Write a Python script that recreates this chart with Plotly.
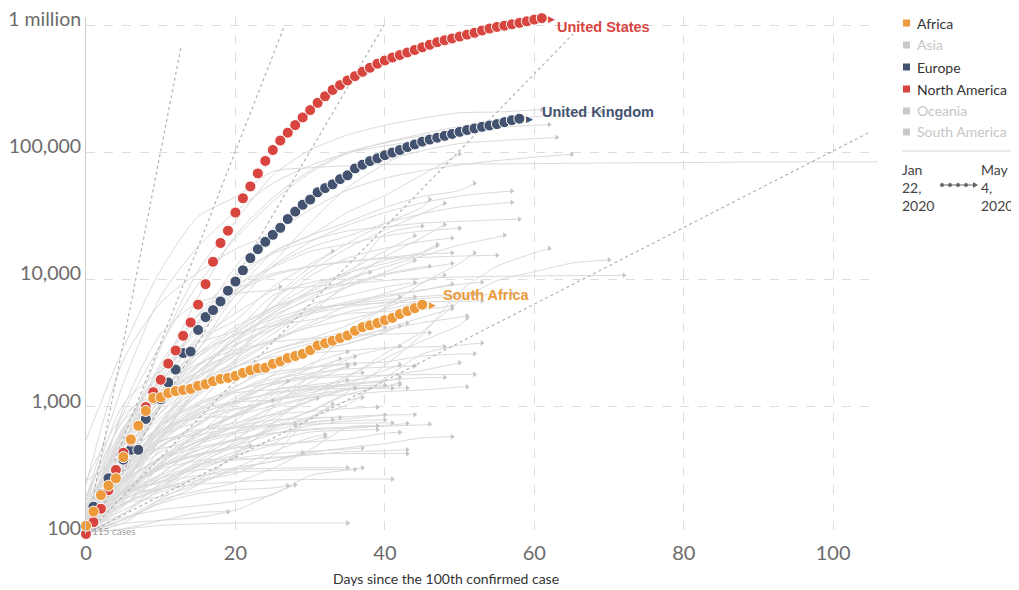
import math
import plotly.graph_objects as go

# ---------------- data ----------------
us_cases = [100, 124, 158, 221, 319, 435, 541, 704, 994, 1301, 1630, 2183, 2770, 3613, 4596,
            6344, 9197, 13779, 19367, 24192, 33592, 43505, 53938, 68211, 85435, 104126, 123578,
            142460, 163539, 187834, 214461, 244440, 275582, 308848, 337065, 366660, 396223,
            429052, 461437, 496535, 526396, 555313, 580619, 607670, 636350, 667592, 699706,
            732197, 758809, 784326, 811865, 840351, 869170, 905358, 938154, 965785, 988197,
            1012582, 1039909, 1069424, 1103461, 1132539]
uk_cases = [116, 164, 207, 274, 322, 384, 459, 459, 802, 1144, 1145, 1551, 1960, 2642, 2716,
            4014, 5067, 5745, 6726, 8164, 9640, 11812, 14745, 17312, 19780, 22453, 25481, 29865,
            34173, 38689, 42477, 48436, 52279, 55949, 61474, 65872, 74605, 79874, 85206, 89570,
            94845, 99483, 104145, 109769, 115314, 121172, 125856, 130172, 134638, 139246, 144640,
            149569, 154037, 158348, 162350, 166441, 172481, 178685, 183500]
sa_cases = [116, 150, 202, 240, 274, 402, 554, 709, 927, 1170, 1187, 1280, 1326, 1353, 1380,
            1462, 1505, 1585, 1655, 1686, 1749, 1845, 1934, 2003, 2028, 2173, 2272, 2415, 2506,
            2605, 2783, 3034, 3158, 3300, 3465, 3635, 3953, 4220, 4361, 4546, 4793, 4996, 5350,
            5647, 5951, 6336]

ref_start = (0, 100)
ref_end_days = [12.7, 26.6, 39.9, 65.2, 105.0]
ref_end_cases = [665000, 1000000, 1000000, 850000, 145000]

# grey background countries: (name, last day, values at days 0,5,10,... then value on last day)
grey_europe = [
    ("Italy", 69, [155, 888, 3089, 9172, 21157, 41035, 69176, 97689, 119827, 139422, 159516, 175925, 189973, 201505, 209328]),
    ("Spain", 61, [120, 500, 2950, 11748, 28768, 65719, 104118, 136675, 163027, 184948, 204178, 207000, 215000, 216582]),
    ("Germany", 62, [130, 670, 1908, 7272, 22213, 43938, 71808, 100123, 118181, 134753, 147065, 156513, 163009, 164967]),
    ("France", 63, [100, 423, 1784, 4499, 12612, 25233, 44550, 68000, 86000, 103000, 117000, 123000, 128000, 131000]),
    ("Belgium", 57, [109, 314, 1243, 2815, 6235, 12775, 19691, 26667, 33573, 39983, 45325, 48519, 49517]),
    ("Netherlands", 57, [128, 614, 1413, 3640, 7468, 12667, 17851, 21903, 27580, 32838, 37190, 39512, 40434]),
    ("Switzerland", 58, [114, 491, 2200, 5294, 10897, 15922, 20278, 24051, 25936, 27740, 28677, 29407, 29817]),
    ("Sweden", 56, [161, 687, 1279, 1746, 2526, 4947, 7206, 10151, 12540, 15322, 18640, 21520, 22317]),
    ("Austria", 55, [104, 504, 1646, 4474, 8271, 11129, 12640, 13945, 14595, 14925, 15274, 15531]),
    ("Portugal", 50, [112, 642, 2060, 5170, 9034, 12442, 16585, 19022, 21982, 24027, 25282]),
    ("Ireland", 49, [129, 557, 1329, 2615, 4273, 6074, 10647, 14758, 17607, 19877, 21176]),
    ("Russia", 46, [114, 367, 1036, 2777, 7497, 13584, 27938, 52763, 80949, 114431, 124054]),
    ("Turkey", 45, [191, 1529, 7402, 18135, 34109, 56956, 78546, 98674, 112261, 124375]),
    ("Norway", 57, [108, 598, 1256, 2132, 3084, 4284, 5370, 6086, 6623, 7078, 7401, 7667, 7809]),
    ("Denmark", 53, [264, 864, 1337, 1862, 2755, 4369, 5635, 6681, 7515, 8271, 9158, 9523]),
    ("Czechia", 52, [116, 298, 995, 2062, 3308, 4587, 5732, 6433, 6900, 7352, 7682, 7737]),
    ("Poland", 49, [103, 355, 901, 1862, 3383, 5205, 6934, 8742, 10892, 12218, 13375]),
    ("Romania", 46, [184, 433, 1029, 2460, 4057, 5990, 7707, 9242, 11036, 12567, 12732]),
    ("Finland", 51, [155, 321, 626, 958, 1418, 2176, 2905, 3489, 4014, 4576, 5051, 5176]),
    ("Greece", 52, [117, 331, 624, 892, 1314, 1755, 2011, 2192, 2245, 2506, 2591, 2612]),
    ("Serbia", 44, [103, 303, 741, 1908, 2666, 4054, 6318, 7483, 8724, 9464]),
    ("Ukraine", 38, [145, 548, 1225, 1892, 3372, 5449, 7647, 9866, 11411]),
    ("Belarus", 33, [152, 440, 1066, 3281, 4779, 8773, 13181, 16705]),
    ("Iceland", 52, [103, 180, 473, 737, 1135, 1486, 1675, 1727, 1771, 1792, 1797, 1799]),
    ("Luxembourg", 46, [140, 670, 1453, 2178, 2804, 3223, 3444, 3618, 3711, 3802, 3811]),
    ("Slovenia", 51, [141, 275, 442, 632, 841, 1021, 1188, 1248, 1317, 1355, 1429, 1439]),
    ("Croatia", 44, [105, 382, 713, 1079, 1343, 1650, 1832, 1981, 2047, 2096]),
    ("Estonia", 48, [171, 306, 575, 858, 1108, 1258, 1400, 1512, 1605, 1689, 1700]),
    ("Hungary", 42, [103, 261, 492, 733, 1190, 1579, 1984, 2443, 2863, 2998]),
    ("Slovakia", 43, [137, 216, 363, 534, 728, 977, 1173, 1360, 1396, 1407]),
    ("Bulgaria", 42, [163, 264, 399, 531, 635, 747, 915, 1247, 1447, 1541]),
    ("Lithuania", 41, [131, 299, 537, 880, 1070, 1298, 1370, 1398, 1399]),
    ("Latvia", 44, [111, 221, 347, 458, 542, 651, 748, 804, 858, 868]),
    ("Moldova", 40, [109, 298, 752, 1438, 2049, 2778, 3304, 3897, 4247]),
    ("Bosnia", 42, [126, 258, 579, 764, 946, 1110, 1342, 1486, 1585, 1706]),
    ("North Macedonia", 42, [114, 219, 354, 617, 854, 1117, 1231, 1386, 1442, 1486]),
    ("Albania", 40, [104, 212, 333, 416, 494, 609, 712, 773, 789]),
    ("Cyprus", 40, [116, 230, 396, 526, 695, 784, 810, 837, 864]),
    ("Andorra", 41, [113, 334, 545, 601, 683, 717, 731, 743, 747]),
    ("San Marino", 49, [101, 144, 223, 279, 333, 371, 435, 476, 513, 569, 582]),
    ("Malta", 37, [129, 188, 241, 337, 393, 427, 446, 465, 474]),
    ("Montenegro", 36, [105, 214, 255, 288, 307, 315, 320, 322, 322]),
    ("Kosovo", 34, [112, 145, 250, 361, 480, 510, 799, 823]),
    ("Georgia", 32, [110, 188, 234, 348, 416, 497, 539, 582]),
]
grey_asia = [
    ("China", 107, [548, 2886, 11891, 31161, 44653, 70548, 75550, 78191, 80174, 80770, 80981, 81000, 81435, 81897, 82361, 82665, 82959, 83403, 83853, 83912, 83959, 84000]),
    ("Iran", 65, [245, 2336, 6566, 11364, 17361, 23049, 35408, 50468, 62589, 71686, 79494, 85996, 91472, 96448]),
    ("South Korea", 72, [104, 977, 3736, 6593, 7755, 8236, 8799, 9241, 9786, 10237, 10450, 10591, 10674, 10718, 10765, 10793]),
    ("Japan", 70, [105, 214, 293, 502, 701, 878, 1128, 1693, 2617, 3906, 6748, 9787, 11512, 13441, 14281]),
    ("Singapore", 62, [106, 130, 178, 243, 432, 683, 926, 1309, 2108, 3699, 8014, 12693, 16169, 17548]),
    ("India", 48, [113, 244, 657, 1397, 3082, 6725, 11487, 17615, 24530, 33062, 39699]),
    ("Saudi Arabia", 48, [103, 274, 767, 1563, 2179, 3287, 5369, 9362, 15102, 21402, 27011]),
    ("Qatar", 52, [262, 401, 470, 549, 781, 1325, 2057, 3711, 6015, 9358, 13409, 16191]),
    ("Pakistan", 47, [187, 776, 1197, 2118, 3864, 5716, 7993, 11155, 14079, 16473, 18912]),
    ("UAE", 44, [140, 248, 611, 1264, 2359, 3736, 5825, 8756, 11380, 14163]),
    ("Indonesia", 48, [117, 369, 893, 1528, 2273, 3293, 4557, 6248, 7775, 9511, 10843]),
    ("Philippines", 49, [111, 217, 552, 1418, 3018, 4076, 5453, 6459, 7294, 8212, 9223]),
    ("Malaysia", 49, [197, 790, 1624, 2626, 3662, 4346, 4817, 5389, 5603, 5820, 6176]),
    ("Thailand", 48, [114, 411, 1045, 1524, 2067, 2473, 2643, 2765, 2907, 2954, 2966]),
    ("Israel", 49, [143, 529, 1656, 4247, 7851, 10743, 12591, 13713, 14882, 15728, 16208]),
    ("Bahrain", 53, [109, 210, 228, 377, 515, 672, 833, 1040, 1673, 2588, 3040, 3170]),
    ("Kuwait", 51, [100, 130, 189, 266, 417, 743, 1234, 1751, 2399, 3288, 4377, 4983]),
    ("Iraq", 50, [101, 164, 346, 630, 878, 1352, 1482, 1602, 1763, 1928, 2219]),
    ("Lebanon", 46, [110, 248, 391, 479, 548, 619, 658, 677, 704, 721, 729]),
    ("Vietnam", 41, [113, 174, 227, 245, 257, 266, 268, 270, 270, 270]),
    ("Taiwan", 43, [100, 215, 322, 376, 388, 395, 425, 429, 429, 429]),
    ("Bangladesh", 26, [123, 482, 1572, 3382, 5416, 8238, 8790]),
    ("Kazakhstan", 37, [111, 343, 670, 1232, 1852, 2601, 3138, 3702, 4082]),
    ("Uzbekistan", 35, [104, 221, 582, 1349, 1627, 1869, 2039, 2149]),
    ("Afghanistan", 35, [110, 269, 484, 714, 1092, 1531, 2171, 2704]),
    ("Sri Lanka", 39, [102, 122, 185, 218, 254, 330, 460, 690, 705]),
    ("Jordan", 43, [127, 212, 274, 353, 381, 401, 417, 444, 451, 459]),
    ("Oman", 36, [131, 192, 298, 484, 1019, 1508, 1790, 2348, 2483]),
    ("Armenia", 42, [136, 265, 532, 833, 967, 1111, 1291, 1523, 1932, 2148]),
    ("Azerbaijan", 37, [122, 298, 584, 926, 1340, 1548, 1717, 1804, 1854]),
    ("Kyrgyzstan", 33, [111, 216, 339, 506, 612, 708, 757, 789]),
    ("Cambodia", 35, [103, 109, 117, 120, 122, 122, 122, 122]),
]
grey_north_america = [
    ("Canada", 52, [108, 415, 1465, 4682, 9560, 16563, 22148, 28209, 36831, 44919, 50026, 57148]),
    ("Mexico", 44, [118, 405, 993, 1890, 3441, 5399, 8261, 11633, 16752, 22088]),
    ("Panama", 44, [137, 345, 989, 1673, 2528, 3400, 4210, 4821, 5779, 6532]),
    ("Dominican Republic", 42, [112, 488, 1109, 1745, 2620, 3286, 4335, 5543, 6293, 7288]),
    ("Costa Rica", 43, [113, 201, 330, 454, 558, 618, 669, 693, 713, 739]),
    ("Cuba", 35, [119, 212, 396, 620, 862, 1137, 1389, 1611]),
    ("Honduras", 33, [139, 222, 343, 426, 494, 702, 804, 1055]),
]
grey_south_america = [
    ("Brazil", 50, [151, 621, 1924, 3904, 8044, 16170, 22192, 33682, 45757, 66501, 97100]),
    ("Peru", 46, [117, 363, 635, 1065, 2281, 6848, 12491, 19250, 27517, 36976, 42534]),
    ("Chile", 47, [156, 537, 1306, 2449, 3737, 5972, 8807, 11296, 13331, 16023, 18435]),
    ("Ecuador", 45, [168, 1049, 1924, 3163, 3995, 7466, 9468, 10850, 22719, 26336]),
    ("Colombia", 44, [102, 306, 702, 1267, 2054, 2776, 3439, 4356, 5949, 7285]),
    ("Argentina", 43, [128, 387, 820, 1353, 1715, 2142, 2658, 3144, 3892, 4532]),
    ("Uruguay", 42, [110, 217, 338, 415, 473, 508, 528, 557, 620, 630]),
    ("Venezuela", 37, [106, 135, 155, 167, 181, 204, 288, 318, 331]),
    ("Bolivia", 31, [115, 183, 275, 400, 564, 807, 1110, 1167]),
    ("Paraguay", 27, [104, 129, 174, 208, 223, 230, 240]),
]
grey_africa = [
    ("Egypt", 49, [110, 196, 366, 609, 1070, 1794, 2673, 3333, 4092, 5042, 5895]),
    ("Algeria", 42, [139, 302, 716, 1320, 1761, 2160, 2718, 3127, 3848, 4295]),
    ("Morocco", 41, [115, 275, 556, 1021, 1448, 2024, 2855, 3758, 4321, 4729]),
    ("Tunisia", 39, [114, 278, 495, 643, 747, 866, 918, 968, 995]),
    ("Cameroon", 35, [139, 233, 658, 820, 848, 1163, 1705, 2077]),
    ("Ghana", 36, [137, 195, 287, 408, 636, 1042, 1550, 2074, 2169]),
    ("Nigeria", 34, [111, 210, 254, 343, 542, 981, 1728, 2388]),
    ("Senegal", 37, [105, 175, 226, 265, 299, 412, 823, 1115, 1182]),
    ("Ivory Coast", 36, [101, 218, 384, 533, 638, 847, 1111, 1362, 1398]),
    ("Burkina Faso", 39, [114, 207, 261, 345, 443, 542, 632, 652, 662]),
    ("DR Congo", 32, [109, 154, 215, 254, 332, 442, 572, 604]),
    ("Kenya", 29, [122, 172, 197, 246, 320, 374, 435]),
    ("Mauritius", 35, [102, 169, 273, 318, 324, 328, 332, 332]),
    ("Guinea", 27, [111, 250, 404, 579, 862, 1240, 1586]),
    ("Djibouti", 25, [121, 283, 591, 945, 1089, 1120]),
    ("Niger", 28, [120, 342, 529, 662, 684, 719, 736]),
    ("Rwanda", 28, [102, 110, 127, 147, 154, 207, 243]),
    ("Mali", 22, [105, 171, 224, 320, 408, 490]),
    ("Madagascar", 19, [108, 121, 128, 135, 149]),
]
grey_oceania = [
    ("Australia", 53, [107, 249, 709, 1709, 3635, 4862, 5956, 6313, 6547, 6654, 6739, 6783]),
    ("New Zealand", 40, [102, 368, 708, 1039, 1283, 1366, 1440, 1456, 1479]),
]

x_tick_vals = [0, 20, 40, 60, 80, 100]
y_tick_vals = [100, 1000, 10000, 100000, 1000000]
y_tick_text = ["100", "1,000", "10,000", "100,000", "1 million"]

legend_names = ["Africa", "Asia", "Europe", "North America", "Oceania", "South America"]
legend_active = [True, False, True, True, False, False]

# ---------------- style ----------------
RED = "#D8453F"
NAVY = "#42526F"
ORANGE = "#EC9A3B"
GREY_LINE = "#dadada"
INACTIVE = "#c9c9c9"
legend_colors = [ORANGE, INACTIVE, NAVY, RED, INACTIVE, INACTIVE]
FONT = "Lato"

# the page body has an 8px default margin, so the figure is shrunk by that amount
BODY = 8
W, H = 1019 - BODY, 590 - BODY
L, R, T, B = 86, 878, 17, 534   # plot-area box in window pixels


def px(xp):
    return (xp - L) / (R - L)


def py(yp):
    return (B - yp) / (B - T)


fig = go.Figure()

# grey background lines
gx, gy, ex, ey = [], [], [], []
for group in (grey_europe, grey_asia, grey_north_america, grey_south_america, grey_africa, grey_oceania):
    for name, last, vals in group:
        days = [5 * i for i in range(len(vals) - 1)] + [last]
        gx += days + [None]
        gy += vals + [None]
        ex.append(last)
        ey.append(vals[-1])
fig.add_trace(go.Scatter(x=gx, y=gy, mode="lines", line=dict(color=GREY_LINE, width=1, shape="spline", smoothing=0.7),
                         hoverinfo="skip", showlegend=False))
fig.add_trace(go.Scatter(x=ex, y=ey, mode="markers", marker=dict(symbol="triangle-right", size=5, color="#c4c4c4"),
                         hoverinfo="skip", showlegend=False))

# dotted doubling guides
for d, c in zip(ref_end_days, ref_end_cases):
    fig.add_trace(go.Scatter(x=[ref_start[0], d], y=[ref_start[1], c], mode="lines",
                             line=dict(color="#b3b3b3", width=1.2, dash="dot"), hoverinfo="skip", showlegend=False))

# highlighted countries
series = [("United Kingdom", uk_cases, NAVY, 21, 7),
          ("United States", us_cases, RED, 13, -9),
          ("South Africa", sa_cases, ORANGE, 19, 10)]
for name, vals, col, lx, ly in series:
    days = list(range(len(vals)))
    fig.add_trace(go.Scatter(x=days, y=vals, mode="markers", name=name, cliponaxis=False,
                             marker=dict(size=11, color=col, line=dict(color="white", width=1)),
                             showlegend=False))
    fig.add_annotation(x=days[-1], y=math.log10(vals[-1]), text="▶", showarrow=False, xshift=10,
                       font=dict(size=9, color=col), xanchor="center", yanchor="middle")
    fig.add_annotation(x=days[-1], y=math.log10(vals[-1]), text="<b>" + name + "</b>", showarrow=False,
                       xanchor="left", yanchor="middle", xshift=lx, yshift=ly,
                       font=dict(family="Liberation Sans, Arial", size=14.5, color=col))

fig.add_annotation(xref="paper", yref="paper", x=px(90), y=py(531), text="115 cases", showarrow=False,
                   xanchor="left", yanchor="middle", font=dict(family=FONT, size=10, color="#9a9a9a"))

# x-axis title
fig.add_annotation(xref="paper", yref="paper", x=px(446), y=py(578), text="Days since the 100th confirmed case",
                   showarrow=False, xanchor="center", yanchor="middle", font=dict(family=FONT, size=14, color="#333"))

# legend
shapes = []
leg_y = [23, 45, 67, 89, 111, 132]
for name, col, act, yy in zip(legend_names, legend_colors, legend_active, leg_y):
    shapes.append(dict(type="rect", xref="paper", yref="paper", x0=px(903), x1=px(910), y0=py(yy + 3.5),
                       y1=py(yy - 3.5), fillcolor=col, line=dict(width=0)))
    fig.add_annotation(xref="paper", yref="paper", x=px(915), y=py(yy), text=name, showarrow=False,
                       xanchor="left", yanchor="middle",
                       font=dict(family=FONT, size=14, color="#333" if act else "#c6c6c6"))
shapes.append(dict(type="line", xref="paper", yref="paper", x0=px(902), x1=px(1013), y0=py(151), y1=py(151),
                   line=dict(color="#d6d6d6", width=1)))
fig.add_annotation(xref="paper", yref="paper", x=px(900), y=py(159), text="Jan<br>22,<br>2020", showarrow=False,
                   xanchor="left", yanchor="top", align="left", font=dict(family=FONT, size=14, color="#444"))
fig.add_annotation(xref="paper", yref="paper", x=px(979), y=py(159), text="May<br>4,<br>2020", showarrow=False,
                   xanchor="left", yanchor="top", align="left", font=dict(family=FONT, size=14, color="#444"))
shapes.append(dict(type="line", xref="paper", yref="paper", x0=px(941), x1=px(974), y0=py(185), y1=py(185),
                   line=dict(color="#666", width=1)))
for cx in [942, 950, 958, 966]:
    shapes.append(dict(type="circle", xref="paper", yref="paper", x0=px(cx - 2), x1=px(cx + 2),
                       y0=py(187), y1=py(183), fillcolor="#666", line=dict(width=0)))
shapes.append(dict(type="path", xref="paper", yref="paper",
                   path=f"M {px(973)},{py(182)} L {px(978)},{py(185)} L {px(973)},{py(188)} Z",
                   fillcolor="#666", line=dict(width=0)))

fig.update_layout(
    width=W, height=H,
    margin=dict(l=L - BODY, r=1019 - R, t=T - BODY, b=590 - B, autoexpand=False),
    paper_bgcolor="white", plot_bgcolor="white",
    font=dict(family=FONT),
    showlegend=False,
    shapes=shapes,
    xaxis=dict(range=[0, 106], tickvals=x_tick_vals, showgrid=True, gridcolor="#dddddd", griddash="dash",
               zeroline=False, showline=False, ticks="", tickfont=dict(family=FONT, size=20, color="#6b6b6b"),
               ticklabelstandoff=5, automargin=False),
    yaxis=dict(type="log", range=[2, 6.063], tickvals=y_tick_vals, ticktext=y_tick_text, showgrid=True,
               gridcolor="#dddddd", griddash="dash", zeroline=False, showline=True, linecolor="#cccccc",
               ticks="", tickfont=dict(family=FONT, size=19.5, color="#6b6b6b"), ticklabelshift=-6,
               ticklabelstandoff=0, ticklabeloverflow="allow", automargin=False),
)

fig.write_html("out.html")
